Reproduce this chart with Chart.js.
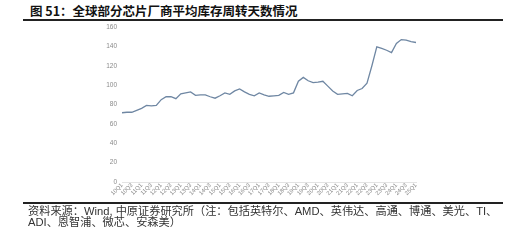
<!DOCTYPE html>
<html>
<head>
<meta charset="utf-8">
<script src="https://cdn.jsdelivr.net/npm/chart.js@4.4.1/dist/chart.umd.min.js"></script>
<style>
  html, body { margin:0; padding:0; background:#fff; }
  #wrap { position:relative; width:525px; height:245px; overflow:hidden; }
  #c { position:absolute; left:0; top:0; }
  .title { position:absolute; left:30px; top:4px; font-family:"Noto Sans CJK SC","Liberation Sans",sans-serif; font-weight:bold; font-size:12.5px; color:#111; white-space:nowrap; line-height:14px; }
  .rule { position:absolute; left:23px; width:480px; height:1.5px; background:#222; }
  .src { position:absolute; left:28px; font-family:"Liberation Sans","Noto Sans CJK SC",sans-serif; font-size:11.2px; color:#333; white-space:nowrap; line-height:12px; }
</style>
</head>
<body>
<div id="wrap">
  <div class="title">图 51：全球部分芯片厂商平均库存周转天数情况</div>
  <div class="rule" style="top:19px"></div>
  <canvas id="c" width="525" height="245"></canvas>
  <div class="rule" style="top:202px"></div>
  <div class="src" style="top:204.5px">资料来源：Wind, 中原证券研究所（注：包括英特尔、AMD、英伟达、高通、博通、美光、TI、</div>
  <div class="src" style="top:215.5px">ADI、恩智浦、微芯、安森美）</div>
</div>
<script>
const years = ['10','11','12','13','14','15','16','17','18','19','20','21','22','23','24','25'];
const quarters = [];
years.forEach(y => { for (let q = 1; q <= 4; q++) quarters.push(y + 'Q' + q); });
const categories = quarters.slice(0, 61); // 10Q1 .. 25Q1

const inventoryDays = [
  71.5, 72, 72, 74, 76, 79, 78.5, 79, 85, 88,
  88, 86, 91, 92, 93, 89.5, 90, 90, 88, 86.5,
  89, 92, 90.5, 94, 96, 93, 90.5, 89, 92, 90,
  88.5, 89, 89.5, 92.5, 90.5, 92, 104, 108, 104.5, 102.5,
  103, 104, 99, 94, 90.5, 91, 91.5, 89, 94.5, 96.5,
  102, 120, 139.5, 138, 136, 133.5, 143, 147, 146.5, 145,
  144
];

const yTicks = [0, 20, 40, 60, 80, 100, 120, 140, 160];

new Chart(document.getElementById('c'), {
  type: 'line',
  data: {
    labels: categories,
    datasets: [{
      data: inventoryDays,
      borderColor: '#6f87a3',
      borderWidth: 1.3,
      pointRadius: 0,
      fill: false,
      tension: 0
    }]
  },
  options: {
    responsive: false,
    animation: false,
    devicePixelRatio: 1,
    layout: { padding: { left: 92, right: 109, top: 27, bottom: 43 } },
    plugins: { legend: { display: false }, tooltip: { enabled: false } },
    scales: {
      x: {
        type: 'category',
        offset: false,
        grid: { display: false, drawTicks: false },
        border: { display: true, color: '#e4e4e4', width: 1 },
        ticks: {
          autoSkip: false,
          maxRotation: 45,
          minRotation: 45,
          padding: 0,
          color: '#8a8a8a',
          font: { family: 'Liberation Sans', size: 5.8 },
          callback: function(v, i) { return i % 2 === 0 ? this.getLabelForValue(v) : ''; }
        },
        afterFit: s => { s.height = 20; }
      },
      y: {
        min: 0,
        max: 160,
        grid: { display: false, drawTicks: false },
        border: { display: false },
        afterBuildTicks: s => { s.ticks = yTicks.map(v => ({ value: v })); },
        ticks: {
          padding: 5,
          color: '#8a8a8a',
          font: { family: 'Liberation Sans', size: 6.5 }
        },
        afterFit: s => { s.width = 30; }
      }
    }
  }
});
</script>
</body>
</html>
